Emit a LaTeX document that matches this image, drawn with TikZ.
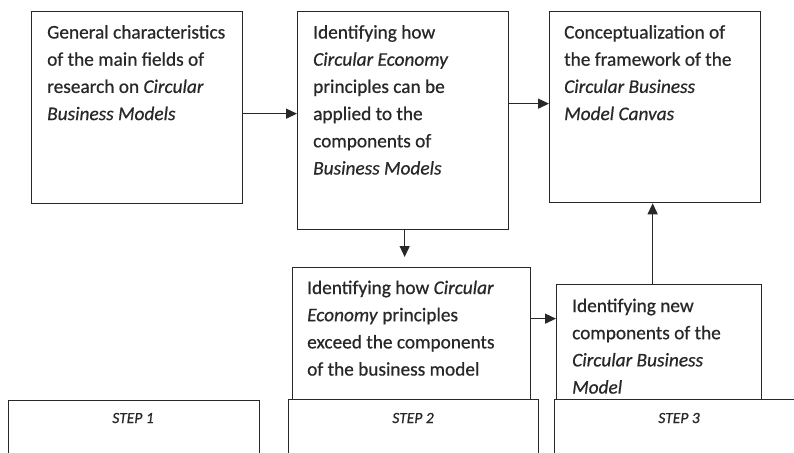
\documentclass[tikz,border=0pt]{standalone}
\usepackage{fontspec}
\setmainfont{Carlito}[FakeBold=0.6,ItalicFeatures={FakeBold=0.6}]
\usetikzlibrary{arrows.meta}

\definecolor{ink}{RGB}{40,40,40}

\tikzset{
  box/.style={draw=ink, line width=1.3pt, fill=white, anchor=north west, inner sep=0pt},
  txt/.style={anchor=base west, inner sep=0pt, text=ink},
  steptxt/.style={anchor=base, inner sep=0pt, text=ink,
    font=\fontsize{15.5}{18}\selectfont\itshape},
  arr/.style={draw=ink, line width=1.3pt, -{Triangle[length=11pt,width=10pt]}}
}

% multi-line text block, baseline of the first line at the node position
\newcommand{\blocktext}[1]{\parbox[t]{240pt}{\raggedright\fontsize{19.3}{27.2}\selectfont #1}}

\begin{document}
\begin{tikzpicture}[x=1pt,y=-1pt]
\useasboundingbox (0,0) rectangle (794,452);
\clip (0,0) rectangle (794,452);

% main process boxes
\node[box, minimum width=211pt, minimum height=192pt] (a) at (31,11) {};
\node[box, minimum width=211pt, minimum height=218pt] (b) at (297,11) {};
\node[box, minimum width=211pt, minimum height=191pt] (c) at (549,11) {};
\node[box, minimum width=238pt, minimum height=132pt] (d) at (292,267) {};
\node[box, minimum width=205pt, minimum height=115pt] (e) at (556,284) {};

% box texts
\node[txt] (ta) at (47,38.5) {\blocktext{General characteristics\\ of the main fields of\\ research on \textit{Circular}\\ \textit{Business Models}}};
\node[txt] (tb) at (313,38.5) {\blocktext{Identifying how\\ \textit{Circular Economy}\\ principles can be\\ applied to the\\ components of\\ \textit{Business Models}}};
\node[txt] (tc) at (564,38.5) {\blocktext{Conceptualization of\\ the framework of the\\ \textit{Circular Business}\\ \textit{Model Canvas}}};
\node[txt] (td) at (307,294) {\blocktext{Identifying how \textit{Circular}\\ \textit{Economy} principles\\ exceed the components\\ of the business model}};
\node[txt] (te) at (572,312) {\blocktext{Identifying new\\ components of the\\ \textit{Circular Business}\\ \textit{Model}}};

% step boxes along the bottom
\node[box, minimum width=251pt, minimum height=70pt] (s1) at (8,400) {};
\node[box, minimum width=250pt, minimum height=70pt] (s2) at (288,399) {};
\node[box, minimum width=262pt, minimum height=70pt] (s3) at (554,399) {};
\node[steptxt] (s1t) at (133,423) {STEP 1};
\node[steptxt] (s2t) at (413,423) {STEP 2};
\node[steptxt] (s3t) at (679,423) {STEP 3};

% connectors
\path ([yshift=-6pt]a.east) coordinate (ab);
\draw[arr] (ab) -- (ab -| b.west);
\path ([yshift=17pt]b.east) coordinate (bc);
\draw[arr] (bc) -- (bc -| c.west);
\path ([xshift=1.5pt]b.south) coordinate (bd);
\draw[arr, shorten >=10pt] (bd) -- (bd |- d.north);
\path ([yshift=15pt]d.east) coordinate (de);
\draw[arr] (de) -- (de -| e.west);
\path ([xshift=-6.5pt]e.north) coordinate (ec);
\draw[arr] (ec) -- (ec |- c.south);
\end{tikzpicture}
\end{document}
